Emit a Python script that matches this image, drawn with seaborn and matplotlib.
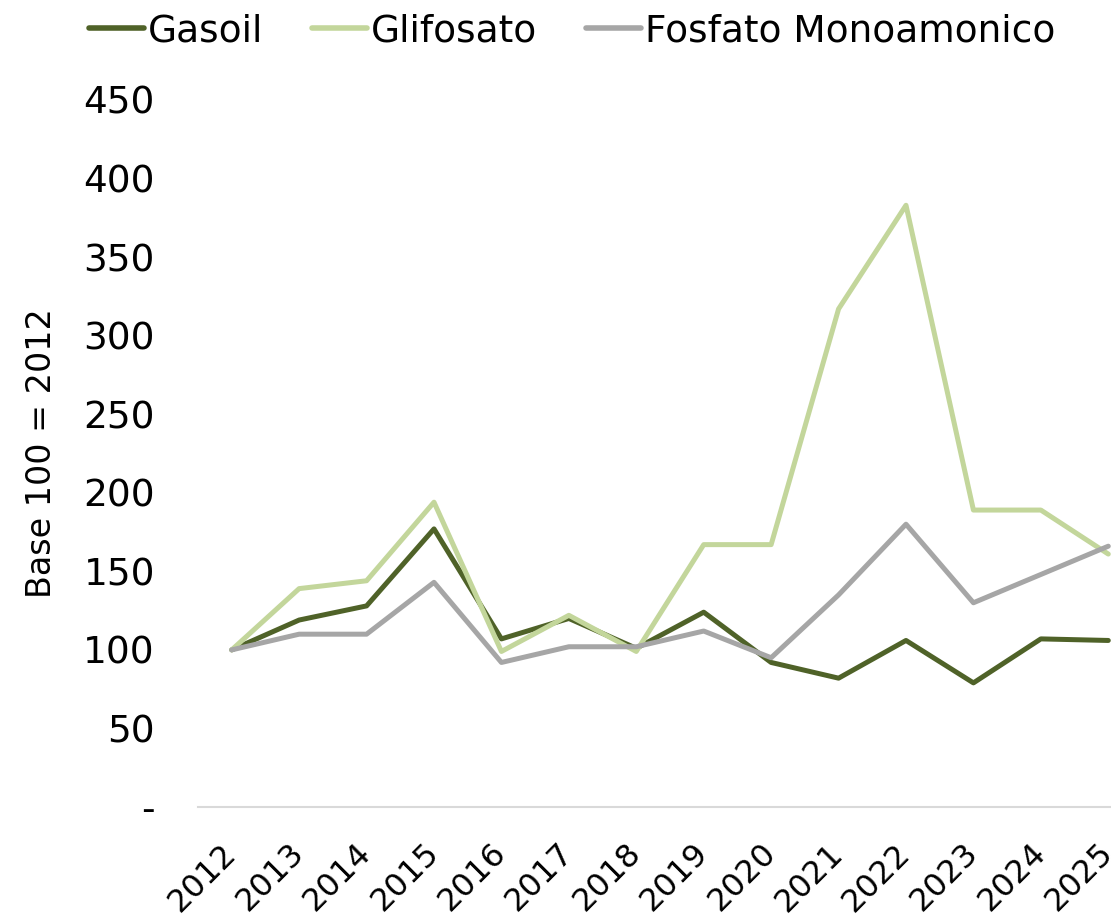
import pandas as pd
import seaborn as sns
import matplotlib.pyplot as plt

years = [2012, 2013, 2014, 2015, 2016, 2017, 2018, 2019, 2020, 2021, 2022, 2023, 2024, 2025]
gasoil = [100, 119, 128, 177, 107, 120, 101, 124, 92, 82, 106, 79, 107, 106]
glifosato = [100, 139, 144, 194, 99, 122, 99, 167, 167, 317, 383, 189, 189, 161]
fosfato = [100, 110, 110, 143, 92, 102, 102, 112, 95, 135, 180, 130, 148, 166]

series_names = ['Gasoil', 'Glifosato', 'Fosfato Monoamonico']
colors = ['#4F6228', '#C3D69B', '#A6A6A6']

df = pd.DataFrame({'year': years * 3,
                   'value': gasoil + glifosato + fosfato,
                   'serie': [series_names[0]] * len(years) + [series_names[1]] * len(years) + [series_names[2]] * len(years)})

sns.set_style('white')
plt.rcParams['font.family'] = ['DejaVu Sans']
plt.rcParams['text.color'] = 'black'
plt.rcParams['xtick.color'] = 'black'
plt.rcParams['ytick.color'] = 'black'
plt.rcParams['axes.labelcolor'] = 'black'

fig = plt.figure(figsize=(11.11, 9.17), dpi=100)
ax = fig.add_axes([198 / 1111, 110 / 917, 944 / 1111, 707 / 917])

sns.lineplot(data=df, x='year', y='value', hue='serie', palette=colors,
             linewidth=3.6, ax=ax, legend=True)

ax.set_xlim(2011.5, 2025.5)
ax.set_ylim(0, 450)
ax.set_yticks(range(0, 451, 50))
ax.set_yticklabels(['-'] + [str(v) for v in range(50, 451, 50)], fontsize=27)
ax.set_xticks(years)
ax.set_xticklabels([str(y) for y in years], fontsize=23, rotation=45,
                   ha='right', va='center', rotation_mode='anchor')
ax.tick_params(axis='x', length=0, pad=30)
ax.tick_params(axis='y', length=0, pad=31)

ax.set_xlabel('')
ax.set_ylabel('Base 100 = 2012', fontsize=24)
ax.yaxis.set_label_coords(-0.148, 0.5)

for s in ['top', 'right', 'left']:
    ax.spines[s].set_visible(False)
ax.spines['bottom'].set_color('#D9D9D9')
ax.spines['bottom'].set_linewidth(1.5)

handles, labels = ax.get_legend_handles_labels()
ax.get_legend().remove()
leg = fig.legend(handles, labels, loc='upper left', bbox_to_anchor=(0.05, 1.022),
                 ncol=3, frameon=False, fontsize=27, handlelength=1.45,
                 handletextpad=0.12, columnspacing=1.3)
for l in leg.get_lines():
    l.set_linewidth(4)

fig.savefig('out.png', dpi=100)
